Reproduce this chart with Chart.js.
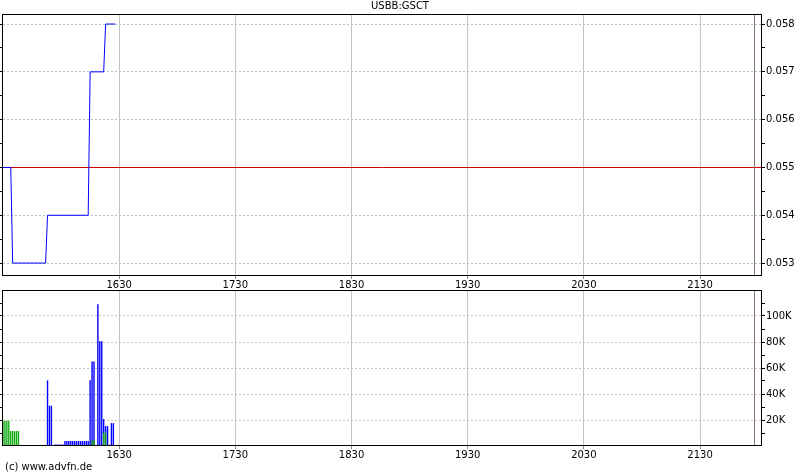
<!DOCTYPE html>
<html><head><meta charset="utf-8">
<script src="https://cdn.jsdelivr.net/npm/chart.js@4.4.1/dist/chart.umd.min.js"></script>
<style>
html,body{margin:0;padding:0;background:#fff;}
#wrap{position:relative;width:800px;height:475px;overflow:hidden;background:#fff;}
canvas{position:absolute;left:0;}
#c1{top:0;}
#c2{top:280px;}
#foot{position:absolute;left:5px;top:461px;font:10px "DejaVu Sans",sans-serif;color:#000;white-space:nowrap;}
</style></head><body>
<div id="wrap">
<canvas id="c1" width="800" height="290"></canvas>
<canvas id="c2" width="800" height="180"></canvas>
<div id="foot">(c) www.advfn.de</div>
</div>
<script>
// ---- data ----
const symbol = "USBB:GSCT";
const sessionStart = "15:30";
const sessionEnd = "22:02";
const closeMarker = "21:58";
const prevClose = 0.055;

const priceTimes  = ["15:30","15:34","15:35","15:52","15:53","16:14","16:15","16:22","16:23","16:28"];
const priceValues = [0.055, 0.055, 0.053, 0.053, 0.054, 0.054, 0.057, 0.057, 0.058, 0.058];

const volBlueTimes  = ["15:53","15:54","15:55","15:57","15:58","15:59","16:00","16:01",
  "16:02","16:03","16:04","16:05","16:06","16:07","16:08","16:09","16:10","16:11","16:12","16:13","16:14",
  "16:15","16:16","16:17","16:19","16:20","16:21","16:22","16:23","16:24","16:25","16:26","16:27"];
const volBlueValues = [50500, 31000, 31000, 1200, 1200, 1200, 1200, 1200,
  3800, 3800, 3800, 3800, 3800, 3800, 3800, 3800, 3800, 3800, 3800, 3800, 3800,
  50500, 65000, 65000, 109000, 80500, 80500, 20700, 15300, 15300, 1000, 17600, 17600];

const volGreenTimes  = ["15:30","15:31","15:32","15:33","15:34","15:35","15:36","15:37","15:38","16:16","16:17","16:22","16:23"];
const volGreenValues = [19500, 19500, 19500, 19500, 11500, 11500, 11500, 11500, 11500, 4400, 4400, 10200, 10200];

const xTickLabels = ["1630","1730","1830","1930","2030","2130"];
const priceTickLabels = ["0.053","0.054","0.055","0.056","0.057","0.058"];
const volTickLabels = ["20K","40K","60K","80K","100K"];

// ---- helpers ----
const FONT = {family: "'DejaVu Sans', sans-serif", size: 10, weight: "normal"};
function toMin(t){ const p = t.split(":"); return (+p[0])*60 + (+p[1]); }
function hhmmToMin(s){ return (+s.slice(0,2))*60 + (+s.slice(2)); }
function minToLabel(v){ const h = Math.floor(v/60), m = Math.round(v%60); return String(h) + String(m).padStart(2,"0"); }
function kToNum(s){ return parseFloat(s) * 1000; }

const xMin = toMin(sessionStart), xMax = toMin(sessionEnd);

// price ticks: majors from labels, minors at midpoints
const priceMajors = priceTickLabels.map(parseFloat);
const priceTicks = [];
priceMajors.forEach((v,i) => {
  priceTicks.push({value: v, major: true, label: priceTickLabels[i]});
  if (i < priceMajors.length - 1) priceTicks.push({value: (v + priceMajors[i+1]) / 2, major: false, label: ""});
});
// volume ticks: majors from labels, minors at midpoints plus one below and above
const volMajors = volTickLabels.map(kToNum);
const volStep = volMajors[1] - volMajors[0];
const volTicks = [{value: volMajors[0] - volStep/2, major:false, label:""}];
volMajors.forEach((v,i) => {
  volTicks.push({value: v, major: true, label: volTickLabels[i]});
  volTicks.push({value: v + volStep/2, major: false, label: ""});
});

function xScale(gridColor){
  return {
    type: "linear", position: "bottom", min: xMin, max: xMax, offset: false,
    afterBuildTicks: s => { s.ticks = xTickLabels.map(l => ({value: hhmmToMin(l)})); },
    ticks: {autoSkip: false, maxRotation: 0, padding: 0, color: "#000", font: FONT,
      callback: v => minToLabel(v)},
    grid: {offset: false, color: gridColor, lineWidth: 1, tickLength: 3, tickColor: "#888"},
    border: {display: false},
    afterFit: s => { s.height = 14; }
  };
}
function yRight(min, max, ticks, gridColor){
  return {
    type: "linear", position: "right", min: min, max: max,
    afterBuildTicks: s => { s.ticks = ticks.map(t => ({value: t.value, major: t.major})); },
    ticks: {autoSkip: false, padding: 1, color: "#000", font: FONT,
      callback: (v, i) => ticks[i] ? ticks[i].label : ""},
    grid: {color: c => (c.tick && c.tick.major) ? gridColor : "rgba(0,0,0,0)",
      lineWidth: 1, tickLength: 3, tickColor: "#000", tickBorderDash: []},
    border: {display: false, dash: [2, 2]},
    afterFit: s => { s.width = 38; }
  };
}
function yLeft(min, max, ticks){
  return {
    type: "linear", position: "left", min: min, max: max,
    afterBuildTicks: s => { s.ticks = ticks.map(t => ({value: t.value})); },
    ticks: {display: false},
    grid: {drawOnChartArea: false, tickLength: 3, tickColor: "#000"},
    border: {display: false},
    afterFit: s => { s.width = 3; }
  };
}

const framePlugin = {
  id: "frame",
  afterDatasetsDraw(chart){
    const {ctx, chartArea: a} = chart;
    const xs = chart.scales.x;
    ctx.save();
    // close marker vertical line
    const mx = Math.round(xs.getPixelForValue(toMin(closeMarker))) + 0.5;
    ctx.strokeStyle = "#8c7474"; ctx.lineWidth = 1;
    ctx.beginPath(); ctx.moveTo(mx, a.top); ctx.lineTo(mx, a.bottom); ctx.stroke();
    // frame
    ctx.strokeStyle = "#000"; ctx.lineWidth = 1;
    ctx.strokeRect(Math.round(a.left) - 0.5, Math.round(a.top) + 0.5,
      Math.round(a.right) - Math.round(a.left), Math.round(a.bottom) - Math.round(a.top) - 1);
    ctx.restore();
  }
};

const priceMin = 0.05273, priceMax = 0.05821;

new Chart(document.getElementById("c1"), {
  data: {
    datasets: [
      {type: "line", label: symbol,
       data: priceTimes.map((t,i) => ({x: toMin(t), y: priceValues[i]})),
       borderColor: "#0000ff", borderWidth: 1, pointRadius: 0, tension: 0, fill: false},
      {type: "line", label: "prev",
       data: [{x: xMin, y: prevClose}, {x: xMax, y: prevClose}],
       borderColor: "#cc0000", borderWidth: 1, pointRadius: 0, tension: 0, fill: false}
    ]
  },
  options: {
    responsive: false, animation: false, events: [],
    layout: {padding: 0},
    scales: {
      x: xScale("#c4c4c4"),
      y: yRight(priceMin, priceMax, priceTicks, "#a9c6c6"),
      yl: yLeft(priceMin, priceMax, priceTicks)
    },
    plugins: {
      legend: {display: false}, tooltip: {enabled: false},
      title: {display: true, text: symbol, color: "#000", font: FONT, padding: {top: 0, bottom: 2}}
    }
  },
  plugins: [framePlugin]
});

new Chart(document.getElementById("c2"), {
  data: {
    datasets: [
      {type: "bar", label: "up",
       data: volGreenTimes.map((t,i) => ({x: toMin(t), y: volGreenValues[i]})),
       backgroundColor: "#11aa11", barThickness: 1.4, inflateAmount: 0, grouped: false, clip: false},
      {type: "bar", label: "vol",
       data: volBlueTimes.map((t,i) => ({x: toMin(t), y: volBlueValues[i]})),
       backgroundColor: "#0000ff", barThickness: 1.4, inflateAmount: 0, grouped: false, clip: false}
    ]
  },
  options: {
    responsive: false, animation: false, events: [],
    layout: {padding: {top: 10, left: 0, right: 0, bottom: 0}},
    scales: {
      x: xScale("#c4c4c4"),
      y: yRight(0, 120000, volTicks, "#c6c6b0"),
      yl: yLeft(0, 120000, volTicks)
    },
    plugins: {legend: {display: false}, tooltip: {enabled: false}}
  },
  plugins: [framePlugin]
});
</script>
</body></html>
